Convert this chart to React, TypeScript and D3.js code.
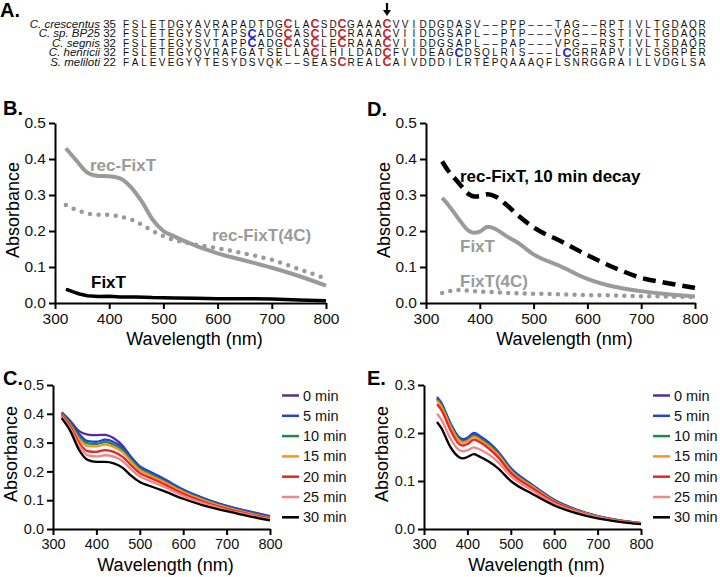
import * as d3 from "d3";
import { useEffect, useRef } from "react";

// ---- panel A: alignment ----
const species = ["C. crescentus", "C. sp. BP25", "C. segnis", "C. henricii", "S. meliloti"];
const startPos = [35, 32, 32, 32, 22];
const sequences = [
  "FSLETDGYAVRAPADTDGCLACSDCGAAACVVIDDGDASV--PPP---TAG--RPTIVLTGDAQR",
  "FSLETEGYSVTAPSCADGCASCLDCRAAACVIIDDGSAPL--PTP---VPG--RSTIVLTGDAQR",
  "FSLETEGYSVTAPPCADGCASCLECRAAACVIIDDGSAPL--PAP---VPG--RSTIVLTSDAQR",
  "FSLETEGYQVRAFGATSELLACLHILDADCFVIDEAGCDSQLRIS---LCGRRAPVIVLSGRPER",
  "FALEVEGYYTESYDSVQK--SEASCREALCAIVDDDILRTEPQAAAQFLSNRGGRAILLVDGLSA",
];
// cysteines drawn in blue (0-based column), every other C is red
const blueCys = [[], [14], [14], [37, 49], []];
const arrowCol = 29;

// ---- panel B ----
const bWave = [320, 340, 360, 380, 400, 420, 440, 460, 480, 500, 520, 540, 560, 580, 600, 650, 700, 750, 800];
const bRecFixT = [0.43, 0.395, 0.362, 0.353, 0.352, 0.346, 0.322, 0.282, 0.232, 0.2, 0.185, 0.171, 0.159, 0.148, 0.138, 0.118, 0.098, 0.075, 0.048];
const bRecFixT4C = [0.272, 0.258, 0.249, 0.245, 0.245, 0.24, 0.232, 0.218, 0.2, 0.186, 0.175, 0.168, 0.162, 0.157, 0.152, 0.137, 0.12, 0.094, 0.068];
const bFixTWave = [320, 325, 335, 345, 360, 380, 400, 420, 450, 480, 520, 560, 600, 650, 700, 750, 800];
const bFixT = [0.038, 0.036, 0.03, 0.025, 0.02, 0.018, 0.019, 0.017, 0.017, 0.015, 0.014, 0.013, 0.012, 0.012, 0.011, 0.008, 0.006];

// ---- panel D ----
const dWave = [330, 340, 360, 380, 390, 400, 415, 430, 450, 470, 500, 550, 600, 650, 700, 750, 800];
const dRecDecay = [0.393, 0.37, 0.335, 0.302, 0.296, 0.297, 0.302, 0.295, 0.272, 0.245, 0.21, 0.172, 0.133, 0.098, 0.07, 0.055, 0.042];
const dFixT = [0.292, 0.275, 0.235, 0.2, 0.195, 0.198, 0.212, 0.205, 0.185, 0.168, 0.135, 0.102, 0.067, 0.045, 0.033, 0.024, 0.018];
const dFixT4C = [0.028, 0.032, 0.036, 0.034, 0.033, 0.032, 0.031, 0.03, 0.028, 0.027, 0.026, 0.024, 0.022, 0.021, 0.019, 0.018, 0.016];

// ---- panels C and E ----
const timeLabels = ["0 min", "5 min", "10 min", "15 min", "20 min", "25 min", "30 min"];
const timeColors = ["#5a2d96", "#2040e8", "#1b8a4c", "#f7941d", "#ec2424", "#f28585", "#000000"];

const cWave = [320, 340, 360, 380, 400, 420, 440, 460, 480, 500, 520, 550, 600, 650, 700, 750, 800];
const cSeries = [
  [0.405, 0.375, 0.34, 0.328, 0.326, 0.327, 0.315, 0.29, 0.25, 0.217, 0.2, 0.176, 0.135, 0.105, 0.08, 0.062, 0.045],
  [0.403, 0.37, 0.33, 0.305, 0.303, 0.31, 0.302, 0.282, 0.248, 0.217, 0.201, 0.179, 0.137, 0.105, 0.08, 0.06, 0.043],
  [0.4, 0.365, 0.32, 0.297, 0.295, 0.302, 0.293, 0.274, 0.241, 0.21, 0.194, 0.171, 0.132, 0.1, 0.076, 0.057, 0.04],
  [0.398, 0.36, 0.313, 0.288, 0.287, 0.293, 0.285, 0.267, 0.234, 0.204, 0.189, 0.167, 0.128, 0.098, 0.074, 0.055, 0.038],
  [0.395, 0.355, 0.3, 0.27, 0.268, 0.274, 0.268, 0.251, 0.221, 0.194, 0.18, 0.16, 0.122, 0.093, 0.07, 0.052, 0.036],
  [0.39, 0.348, 0.29, 0.256, 0.252, 0.256, 0.251, 0.236, 0.207, 0.182, 0.169, 0.15, 0.115, 0.088, 0.066, 0.049, 0.033],
  [0.385, 0.34, 0.275, 0.24, 0.233, 0.233, 0.228, 0.213, 0.185, 0.163, 0.151, 0.135, 0.105, 0.08, 0.062, 0.045, 0.03],
];

const eWave = [330, 340, 360, 380, 390, 400, 415, 430, 450, 470, 500, 550, 600, 650, 700, 750, 800];
const eSeries = [
  [0.272, 0.26, 0.22, 0.19, 0.185, 0.188, 0.198, 0.19, 0.178, 0.16, 0.125, 0.09, 0.06, 0.04, 0.027, 0.018, 0.012],
  [0.275, 0.263, 0.222, 0.192, 0.187, 0.19, 0.2, 0.193, 0.18, 0.162, 0.127, 0.092, 0.061, 0.041, 0.027, 0.018, 0.012],
  [0.27, 0.258, 0.218, 0.188, 0.182, 0.185, 0.195, 0.188, 0.175, 0.158, 0.123, 0.089, 0.059, 0.04, 0.026, 0.018, 0.012],
  [0.268, 0.255, 0.215, 0.185, 0.18, 0.183, 0.192, 0.185, 0.172, 0.155, 0.121, 0.088, 0.058, 0.039, 0.026, 0.017, 0.012],
  [0.26, 0.248, 0.208, 0.178, 0.174, 0.177, 0.186, 0.18, 0.167, 0.15, 0.117, 0.085, 0.056, 0.038, 0.025, 0.017, 0.011],
  [0.24, 0.228, 0.19, 0.165, 0.162, 0.164, 0.17, 0.165, 0.155, 0.14, 0.11, 0.08, 0.053, 0.036, 0.024, 0.016, 0.011],
  [0.223, 0.21, 0.172, 0.15, 0.147, 0.15, 0.156, 0.15, 0.14, 0.127, 0.1, 0.073, 0.049, 0.033, 0.022, 0.015, 0.01],
];

const xTicks = [300, 400, 500, 600, 700, 800];
const font = "'Liberation Sans', Arial, Helvetica, sans-serif";
const gray = "#9a9a9a";

type Sel = d3.Selection<SVGGElement, unknown, null, undefined>;

function makePanel(
  root: d3.Selection<SVGSVGElement, unknown, null, undefined>,
  o: { left: number; right: number; top: number; bottom: number; yMax: number; yStep: number; fs: number; titleY: number }
) {
  const x = d3.scaleLinear().domain([300, 800]).range([o.left, o.right]);
  const y = d3.scaleLinear().domain([0, o.yMax]).range([o.bottom, o.top]);
  const g: Sel = root.append("g");

  const yAxis = g
    .append("g")
    .attr("transform", `translate(${o.left},0)`)
    .call(
      d3
        .axisLeft(y)
        .tickValues(d3.range(0, o.yMax + 1e-9, o.yStep))
        .tickFormat(d3.format(".1f"))
        .tickSize(6)
        .tickSizeOuter(0)
        .tickPadding(3)
    );
  const xAxis = g
    .append("g")
    .attr("transform", `translate(0,${o.bottom})`)
    .call(d3.axisBottom(x).tickValues(xTicks).tickSize(6).tickSizeOuter(0).tickPadding(4));

  [yAxis, xAxis].forEach((a) => {
    a.select(".domain").attr("stroke", "#000").attr("stroke-width", 2);
    a.selectAll(".tick line").attr("stroke", "#000").attr("stroke-width", 2);
    a.selectAll(".tick text").attr("font-family", font).attr("font-size", o.fs).attr("fill", "#111");
  });

  g.append("text")
    .attr("x", (o.left + o.right) / 2 + 4)
    .attr("y", o.titleY)
    .attr("text-anchor", "middle")
    .attr("font-family", font)
    .attr("font-size", 18)
    .text("Wavelength (nm)");

  g.append("text")
    .attr("transform", `translate(${o.left - 36},${(o.top + o.bottom) / 2 - 3}) rotate(-90)`)
    .attr("text-anchor", "middle")
    .attr("font-family", font)
    .attr("font-size", 18)
    .text("Absorbance");

  return { g, x, y };
}

function plotLine(
  p: { g: Sel; x: d3.ScaleLinear<number, number>; y: d3.ScaleLinear<number, number> },
  wave: number[],
  vals: number[],
  style: { color: string; width: number; dash?: string; cap?: string; curve?: d3.CurveFactory }
) {
  const line = d3
    .line<number>()
    .x((d, i) => p.x(wave[i]))
    .y((d) => p.y(d))
    .curve(style.curve || d3.curveMonotoneX);
  p.g
    .append("path")
    .attr("d", line(vals))
    .attr("fill", "none")
    .attr("stroke", style.color)
    .attr("stroke-width", style.width)
    .attr("stroke-dasharray", style.dash || null)
    .attr("stroke-linecap", style.cap || "butt")
    .attr("stroke-linejoin", "round");
}

function label(g: Sel, x: number, y: number, text: string, color: string, size = 17) {
  g.append("text")
    .attr("x", x)
    .attr("y", y)
    .attr("font-family", font)
    .attr("font-weight", "bold")
    .attr("font-size", size)
    .attr("fill", color)
    .text(text);
}

const App = () => {
  const ref = useRef<HTMLDivElement>(null);

  useEffect(() => {
    d3.select(ref.current).select("svg").remove();
    const svg = d3
      .select(ref.current)
      .append("svg")
      .attr("width", 720)
      .attr("height", 577)
      .style("display", "block")
      .style("background", "#fff");

    const root = svg.append("g") as unknown as Sel;

    // panel letters
    const letters: [string, number, number][] = [
      ["A.", 0, 17],
      ["B.", 3, 115],
      ["D.", 367, 116],
      ["C.", 3, 385],
      ["E.", 367, 385],
    ];
    letters.forEach(([t, x, y]) => label(root, x, y, t, "#000", 20));

    // ---- alignment ----
    const col = d3.scaleLinear().domain([0, 1]).range([121.5, 130.5]);
    const rowY = d3.scaleLinear().domain([0, 1]).range([27.5, 37.05]);
    const al = root.append("g").attr("font-family", font);

    species.forEach((sp, r) => {
      const t = al
        .append("text")
        .attr("x", 116)
        .attr("y", rowY(r))
        .attr("text-anchor", "end")
        .attr("font-size", 11.5)
        .attr("fill", "#111");
      t.append("tspan").attr("font-style", "italic").text(sp);
      t.append("tspan").text(" " + startPos[r]);

      sequences[r].split("").forEach((ch, i) => {
        const isC = ch === "C";
        const blue = blueCys[r].includes(i);
        al.append("text")
          .attr("x", col(i + 0.5))
          .attr("y", rowY(r) + (isC ? 0.5 : 0))
          .attr("text-anchor", "middle")
          .attr("font-size", isC ? 12.5 : 10)
          .attr("font-weight", isC ? "bold" : "normal")
          .attr("fill", isC ? (blue ? "#2323c8" : "#c0262c") : "#111")
          .text(ch === "-" ? "–" : ch);
      });
    });

    // arrow above the conserved cysteine
    const ax = col(arrowCol + 0.5);
    al.append("line").attr("x1", ax).attr("x2", ax).attr("y1", 3).attr("y2", 11).attr("stroke", "#000").attr("stroke-width", 2.2);
    al.append("path").attr("d", `M${ax - 4},10 L${ax + 4},10 L${ax},16 Z`).attr("fill", "#000");

    // ---- B ----
    const pb = makePanel(svg, { left: 55, right: 326, top: 123, bottom: 303, yMax: 0.5, yStep: 0.1, fs: 15.5, titleY: 345 });
    plotLine(pb, bWave, bRecFixT4C, { color: gray, width: 4.5, dash: "0 8.6", cap: "round" });
    plotLine(pb, bWave, bRecFixT, { color: gray, width: 4 });
    plotLine(pb, bFixTWave, bFixT, { color: "#000", width: 3.5, curve: d3.curveLinear });
    label(pb.g, 90, 171, "rec-FixT", gray);
    label(pb.g, 212, 241, "rec-FixT(4C)", gray);
    label(pb.g, 91, 288, "FixT", "#000");

    // ---- D ----
    const pd = makePanel(svg, { left: 426, right: 695, top: 123, bottom: 303, yMax: 0.5, yStep: 0.1, fs: 15.5, titleY: 345 });
    plotLine(pd, dWave, dFixT4C, { color: gray, width: 4.5, dash: "0 8.3", cap: "round" });
    plotLine(pd, dWave, dFixT, { color: gray, width: 4 });
    plotLine(pd, dWave, dRecDecay, { color: "#000", width: 4.5, dash: "13 7" });
    label(pd.g, 460, 182, "rec-FixT, 10 min decay", "#000");
    label(pd.g, 460, 252, "FixT", gray);
    label(pd.g, 460, 287, "FixT(4C)", gray);

    // ---- C and E ----
    const legendY = d3.scaleLinear().domain([0, 1]).range([395.5, 415.8]);
    const timePanels = [
      { opts: { left: 53, right: 270, top: 385, bottom: 529, yMax: 0.5, yStep: 0.1, fs: 14.5, titleY: 571 }, wave: cWave, series: cSeries, lx: 282 },
      { opts: { left: 424, right: 641, top: 385, bottom: 529, yMax: 0.3, yStep: 0.1, fs: 14.5, titleY: 571 }, wave: eWave, series: eSeries, lx: 653 },
    ];
    timePanels.forEach((tp) => {
      const p = makePanel(svg, tp.opts);
      tp.series.forEach((s, i) => plotLine(p, tp.wave, s, { color: timeColors[i], width: 2.3 }));
      timeLabels.forEach((t, i) => {
        const yy = legendY(i);
        p.g.append("line")
          .attr("x1", tp.lx)
          .attr("x2", tp.lx + 17)
          .attr("y1", yy)
          .attr("y2", yy)
          .attr("stroke", timeColors[i])
          .attr("stroke-width", 2.5);
        p.g.append("text")
          .attr("x", tp.lx + 21)
          .attr("y", yy + 5)
          .attr("font-family", font)
          .attr("font-size", 14.5)
          .attr("fill", "#111")
          .text(t);
      });
    });
  }, []);

  return <div ref={ref} style={{ position: "absolute", left: 0, top: 0 }}></div>;
};

export default App;
